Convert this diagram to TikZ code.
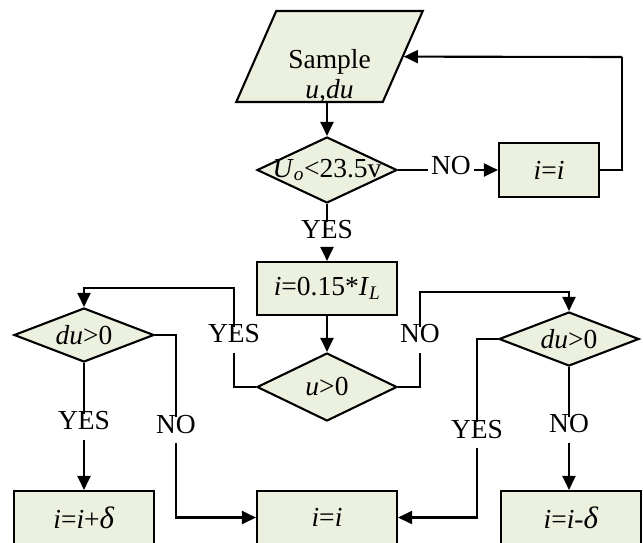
\documentclass[tikz,border=0pt]{standalone}
\usepackage{fontspec}
\setmainfont{Liberation Serif}
\usetikzlibrary{shapes.geometric,arrows.meta}
\definecolor{boxfill}{HTML}{EBF1DE}
\tikzset{
  txt/.style={font=\fontsize{27.5}{29.5}\selectfont},
  base/.style={txt, draw=black, line width=2.1pt, fill=boxfill, inner sep=0pt},
  procbox/.style={base, rectangle, minimum width=140pt, minimum height=53pt},
  decision/.style={base, diamond, aspect=2.5, minimum width=140pt},
  iobox/.style={base, trapezium, trapezium stretches=true,
    trapezium left angle=63, trapezium right angle=117,
    minimum width=187pt, minimum height=91pt},
  lbl/.style={txt, inner xsep=2.5pt, inner ysep=9.5pt, text height=0.66em, text depth=0pt},
  line/.style={line width=2.1pt},
  arr/.style={line, -{Triangle[length=14pt,width=13pt]}}
}
\newcommand{\vi}{\textit{i}}
\newcommand{\dlt}{{\fontsize{31}{31}\selectfont\textit{δ}}}
\begin{document}
\begin{tikzpicture}[x=1pt,y=-1pt]
\clip (0,0) rectangle (643,542);
\useasboundingbox (0,0) rectangle (643,542);

% shapes
\node[iobox] (sample) at (329.5,56.5) {\phantom{M}};
\node[txt, align=center, inner sep=0pt] (sampletext) at (329.5,76) {Sample\\\textit{u,du}};
\node[decision, minimum height=66pt] (d1) at (327,170)
  {\makebox[0pt]{\textit{U}\textsubscript{\textit{o}}<23.5v}};
\node[procbox, minimum width=100pt, minimum height=54pt] (b1) at (549,170) {\vi=\vi};
\node[procbox] (b2) at (327,288.5) {\vi=0.15*\textit{I}\textsubscript{\textit{L}}};
\node[decision, minimum height=68pt] (u0) at (327,387) {\makebox[0pt]{\textit{u}>0}};
\node[decision, minimum height=54pt] (dl) at (84,335) {\makebox[0pt]{\textit{du}>0}};
\node[decision, minimum height=54pt] (dr) at (569,339) {\makebox[0pt]{\textit{du}>0}};
\node[procbox] (bl) at (84,517.5) {\vi=\vi+\dlt};
\node[procbox] (bm) at (327,517.5) {\vi=\vi};
\node[procbox] (br) at (571,517.5) {\vi=\vi-\dlt};

% connector labels
\node[lbl] (no1)  at (451,171) {NO};
\node[lbl] (yes1) at (327,235) {YES};
\node[lbl] (yes2) at (234,339.5) {YES};
\node[lbl] (no2)  at (420,339.5) {NO};
\node[lbl] (yes3) at (84,426.5) {YES};
\node[lbl] (no3)  at (176,430) {NO};
\node[lbl] (yes4) at (477,435) {YES};
\node[lbl] (no4)  at (569,429.5) {NO};

% bends
\coordinate (loop) at (622,57);
\coordinate (cl) at (84,288);
\coordinate (cr) at (569,292);

% connectors
\draw[arr] (sample.south -| d1) -- (d1);
\draw[line] (d1.east) -- (no1.west |- d1.east);
\draw[arr] (no1.east |- b1.west) -- (b1.west);
\draw[line] (b1) -| (loop);
\draw[arr] (loop) -- (sample);
\draw[line] (d1) -- (yes1);
\draw[arr] (yes1) -- (b2);
\draw[arr] (b2) -- (u0);

\draw[line] (u0.west) -| (yes2);
\draw[arr] (yes2) |- (cl) -- (dl);
\draw[line] (u0.east) -| (no2);
\draw[arr] (no2) |- (cr) -- (dr);

\draw[line] (dl) -- (yes3);
\draw[arr] (yes3) -- (bl);
\draw[line] (dl.east) -| (no3);
\draw[arr] (no3) |- (bm);

\draw[line] (dr.west) -| (yes4);
\draw[arr] (yes4) |- (bm);
\draw[line] (dr) -- (no4);
\draw[arr] (no4) -- (no4 |- br.north);
\end{tikzpicture}
\end{document}
